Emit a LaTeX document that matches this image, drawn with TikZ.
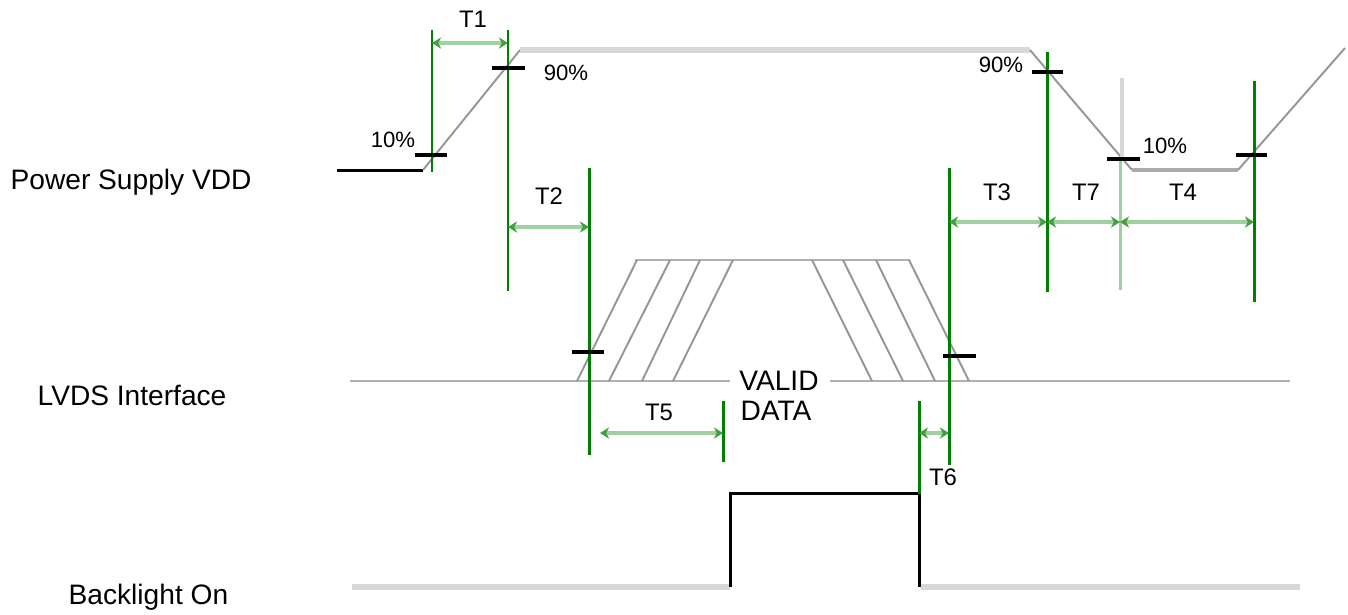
\documentclass[tikz,border=0pt]{standalone}
\usepackage{fontspec}
\setmainfont{Liberation Sans}
\usetikzlibrary{arrows.meta}

\definecolor{guidegreen}{RGB}{0,128,0}
\definecolor{dimgreen}{RGB}{160,208,160}
\definecolor{wavegray}{RGB}{150,150,150}
\definecolor{railgray}{RGB}{216,216,216}

\begin{document}
\begin{tikzpicture}[x=0.01cm,y=-0.01cm,
  guide/.style={guidegreen,line width=0.85pt},
  wave/.style={wavegray,line width=0.55pt},
  rail/.style={railgray,line width=1.6pt},
  tickmark/.style={black,line width=0.9pt},
  dim/.style={dimgreen,line width=1.3pt,
    {Stealth[length=2.6pt,width=3.2pt,color=guidegreen!75]}-{Stealth[length=2.6pt,width=3.2pt,color=guidegreen!75]}},
  lbl/.style={font=\fontsize{8}{9}\selectfont},
  tlbl/.style={font=\fontsize{6.8}{8}\selectfont},
  pct/.style={font=\fontsize{6.3}{7}\selectfont}]
\useasboundingbox (0,0) rectangle (1348,614);

% signal names
\node[lbl,anchor=base west,inner sep=0] (vdd) at (10,189) {Power Supply VDD};
\node[lbl,anchor=base west,inner sep=0] (lvds) at (37,405) {LVDS Interface};
\node[lbl,anchor=base west,inner sep=0] (blon) at (68,604) {Backlight On};

% power supply
\draw[black,line width=0.85pt] (337,170) -- (423,170);
\draw[wave] (423,170) -- (520,50);
\draw[rail] (520,50) -- (1030,50);
\draw[wave] (1030,50) -- (1132,170);
\draw[wavegray!80,line width=1pt] (1132,170) -- (1238,170);
\draw[wave] (1238,170) -- (1345,48);

% lvds data
\draw[wavegray!75,line width=0.6pt] (350,381) -- (730,381) (830,381) -- (1290,381);
\draw[wavegray!75,line width=0.6pt] (635,260) -- (910,260);
\foreach \a/\b in {577/637,609/670,642/700,673/733}
  \draw[wave] (\a,381) -- (\b,260);
\foreach \a/\b in {812/872,843/903,876/935,909/969}
  \draw[wave] (\a,260) -- (\b,381);
\node[lbl,anchor=base,inner sep=0] (valid) at (779,390) {VALID};
\node[lbl,anchor=base,inner sep=0] (data) at (776,420) {DATA};

% backlight
\draw[rail] (352,587) -- (730,587) (921,587) -- (1300,587);
\draw[black,line width=0.85pt] (730,587) -- (730,493) -- (919,493) -- (919,587);

% guide lines
\coordinate (g1) at (432,0);
\coordinate (g2) at (508,0);
\coordinate (g3) at (589,0);
\coordinate (g4) at (949,0);
\coordinate (g5) at (723,0);
\coordinate (g6) at (919,0);
\coordinate (g7) at (1047,0);
\coordinate (g8) at (1120,0);
\coordinate (g9) at (1254,0);
\draw[guide] (g1 |- 0,30) -- (g1 |- 0,172);
\draw[guide] (g2 |- 0,30) -- (g2 |- 0,291);
\draw[guide] (g3 |- 0,168) -- (g3 |- 0,455);
\draw[guide] (g4 |- 0,168) -- (g4 |- 0,465);
\draw[guide] (g5 |- 0,401) -- (g5 |- 0,462);
\draw[guide] (g6 |- 0,401) -- (g6 |- 0,494);
\draw[guide] (g7 |- 0,52) -- (g7 |- 0,292);
\draw[railgray,line width=1.2pt] (1122,78) -- (1122,158);
\draw[dimgreen,line width=0.85pt] (g8 |- 0,160) -- (g8 |- 0,290);
\draw[guide] (g9 |- 0,81) -- (g9 |- 0,302);

% level marks
\draw[tickmark] (415,155) -- (447,155);
\draw[tickmark] (492,68) -- (525,68);
\draw[tickmark] (572,352) -- (604,352);
\draw[tickmark] (943,356) -- (976,356);
\draw[tickmark] (1032,72) -- (1063,72);
\draw[tickmark] (1107,159) -- (1140,159);
\draw[tickmark] (1236,155) -- (1267,155);
\node[pct,anchor=base,inner sep=0] (p1) at (393,147) {10\%};
\node[pct,anchor=base,inner sep=0] (p2) at (566,80) {90\%};
\node[pct,anchor=base,inner sep=0] (p3) at (1001,72) {90\%};
\node[pct,anchor=base,inner sep=0] (p4) at (1165,153) {10\%};

% timings
\draw[dim] (g1 |- 0,43) -- (g2 |- 0,43);
\draw[dim] (g2 |- 0,227) -- (g3 |- 0,227);
\draw[dim] (g4 |- 0,222) -- (g7 |- 0,222);
\draw[dim] (g7 |- 0,222) -- (g8 |- 0,222);
\draw[dim] (g8 |- 0,222) -- (g9 |- 0,222);
\draw[dim] (600,433) -- (g5 |- 0,433);
\draw[dim] (g6 |- 0,433) -- (g4 |- 0,433);
\node[tlbl,anchor=base,inner sep=0] (t1) at (473,27) {T1};
\node[tlbl,anchor=base,inner sep=0] (t2) at (549,204) {T2};
\node[tlbl,anchor=base,inner sep=0] (t3) at (997,200) {T3};
\node[tlbl,anchor=base,inner sep=0] (t7) at (1086,200) {T7};
\node[tlbl,anchor=base,inner sep=0] (t4) at (1183,200) {T4};
\node[tlbl,anchor=base,inner sep=0] (t5) at (659,420) {T5};
\node[tlbl,anchor=base,inner sep=0] (t6) at (943,485) {T6};

\end{tikzpicture}
\end{document}
